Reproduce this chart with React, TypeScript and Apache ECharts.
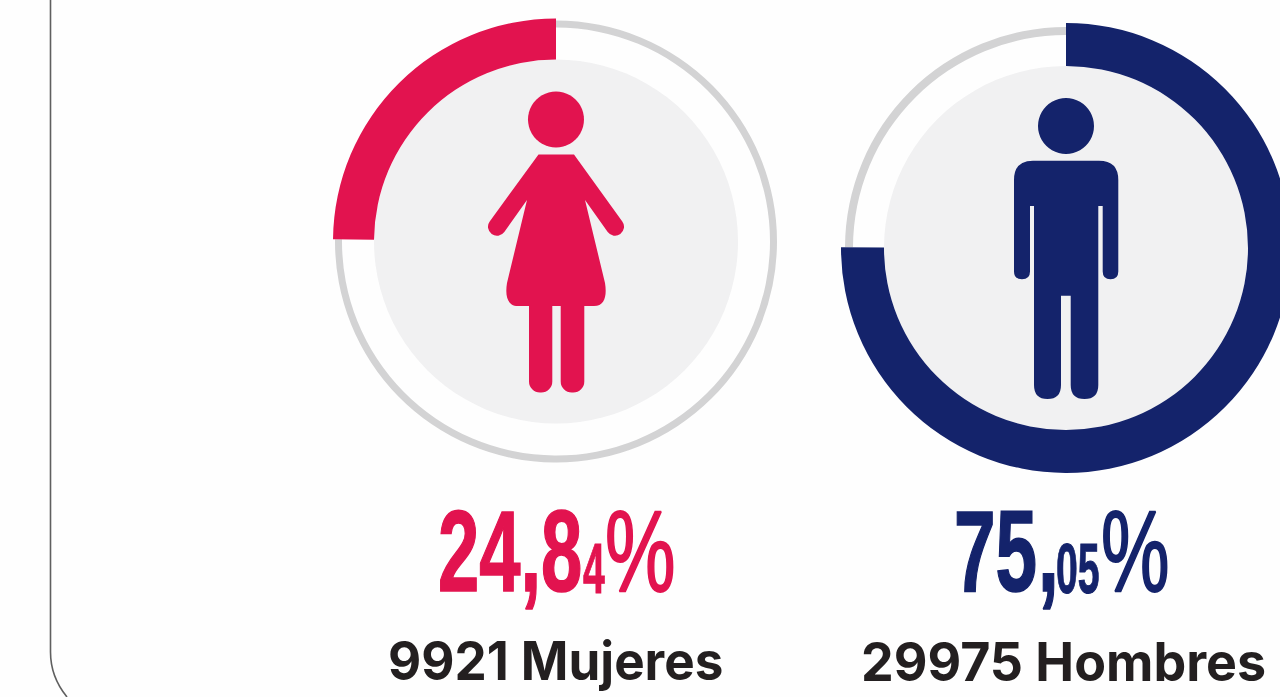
import React, { useEffect, useRef } from "react";
import * as echarts from "echarts";

const groups = ["Mujeres", "Hombres"];
const shares = [24.84, 75.05];
const counts = [9921, 29975];
const colors = ["#e2134f", "#14236b"];
const centers: [number, number][] = [[556, 241.5], [1066, 248]];
const outerRadii = [223, 225];
const ringRadii = [[214, 221], [213, 221]];

const WOMAN =
  "M538.5 154.5L574 154.5L622.3 221.4A9 9 0 0 1 607.7 232L585 200L605 283C607 295 605 306 594 306L518 306C507 306 505 295 507 283L527 200L504.3 232A9 9 0 0 1 489.7 221.4Z" +
  "M529 300L552.3 300L552.3 381.5A11 11 0 0 1 541.3 392.5L540 392.5A11 11 0 0 1 529 381.5Z" +
  "M560.7 300L584.3 300L584.3 381.5A11 11 0 0 1 573.3 392.5L571.7 392.5A11 11 0 0 1 560.7 381.5Z";
const MAN =
  "M1033 160.7L1099 160.7Q1118.3 160.7 1118.3 180L1118.3 271.5Q1118.3 279.3 1110.5 279.3Q1102.7 279.3 1102.7 271.5L1102.7 206L1098.3 206L1098.3 385Q1098.3 399 1084.5 399Q1070.7 399 1070.7 385L1070.7 295.7L1061 295.7L1061 385Q1061 399 1047.5 399Q1034 399 1034 385L1034 206L1030 206L1030 271.5Q1030 279.3 1022 279.3Q1014 279.3 1014 271.5L1014 180Q1014 160.7 1033 160.7Z";

echarts.graphic.registerShape("woman", echarts.graphic.extendPath(WOMAN, {}));
echarts.graphic.registerShape("man", echarts.graphic.extendPath(MAN, {}));

const NARROW = '"Liberation Sans Narrow", "Liberation Sans", sans-serif';
const SANS = 'Inter, "Noto Sans", sans-serif';

function txt(text: string, x: number, y: number, size: number, sx: number, fill: string, family: string, weight: string | number, stroke = 0) {
  return {
    type: "text",
    x,
    y,
    scaleX: sx,
    z: 20,
    silent: true,
    style: {
      text, x: 0, y: 0, fill,
      font: `${weight} ${size}px ${family}`,
      textAlign: "left", textVerticalAlign: "bottom",
      stroke: stroke ? fill : undefined,
      lineWidth: stroke,
    },
  };
}

function pieSeries(i: number) {
  const v = shares[i];
  const rest = 100 - v;
  const base = {
    type: "pie",
    center: centers[i],
    startAngle: 90,
    clockwise: i === 1,
    silent: true,
    label: { show: false },
    labelLine: { show: false },
    emphasis: { disabled: true },
  };
  return [
    { ...base, z: 1, radius: [0, 182], data: [{ value: 100, name: groups[i] + " fondo", itemStyle: { color: "#f1f1f2" } }] },
    { ...base, z: 2, radius: ringRadii[i], data: [
        { value: v, name: "a", itemStyle: { color: "transparent" } },
        { value: rest, name: "resto", itemStyle: { color: "#d3d3d4" } },
      ] },
    { ...base, z: 3, radius: [182, outerRadii[i]], data: [
        { value: v, name: groups[i], itemStyle: { color: colors[i] } },
        { value: rest, name: "b", itemStyle: { color: "transparent" } },
      ] },
  ];
}

export default function App() {
  const ref = useRef<HTMLDivElement>(null);
  useEffect(() => {
    const chart = echarts.init(ref.current!, null, { renderer: "svg" });
    chart.setOption({
      animation: false,
      backgroundColor: "#fefefe",
      series: [...pieSeries(0), ...pieSeries(1)],
      graphic: [
        { type: "line", z: 10, silent: true, shape: { x1: 50.5, y1: 0, x2: 50.5, y2: 652 }, style: { stroke: "#5f5f5f", lineWidth: 1.6 } },
        { type: "bezierCurve", z: 10, silent: true, shape: { x1: 50.5, y1: 652, cpx1: 50.5, cpy1: 672, cpx2: 58, cpy2: 686, x2: 67, y2: 697 }, style: { stroke: "#5f5f5f", lineWidth: 1.6, fill: "none" } },
        { type: "circle", z: 10, silent: true, shape: { cx: 556, cy: 119.5, r: 28 }, style: { fill: colors[0] } },
        { type: "woman", z: 10, silent: true, style: { fill: colors[0] } },
        { type: "circle", z: 10, silent: true, shape: { cx: 1066, cy: 126, r: 28 }, style: { fill: colors[1] } },
        { type: "man", z: 10, silent: true, style: { fill: colors[1] } },
        txt("24,8", 438, 609, 115, 0.645, colors[0], NARROW, "bold", 1.6),
        txt("4", 583, 604, 70, 0.56, colors[0], NARROW, "bold", 1),
        txt("%", 605, 609, 115, 0.69, colors[0], NARROW, "normal", 2),
        txt("75", 954, 609, 115, 0.65, colors[1], NARROW, "bold", 1.6),
        txt(",", 1038, 609, 115, 0.65, colors[1], NARROW, "bold", 1.6),
        txt("05", 1056, 604, 70, 0.56, colors[1], NARROW, "bold", 1),
        txt("%", 1101, 609, 115, 0.67, colors[1], NARROW, "normal", 2),
        txt(`${counts[0]} ${groups[0]}`, 388, 688, 53, 0.965, "#231f20", SANS, 700),
        txt(`${counts[1]} ${groups[1]}`, 861, 688, 53, 0.98, "#231f20", SANS, 700),
      ],
    });
    return () => chart.dispose();
  }, []);
  return (
    <div style={{ position: "fixed", left: 0, top: 0, width: 1280, height: 697, overflow: "hidden" }}>
      <div ref={ref} style={{ width: 1280, height: 697 }} />
    </div>
  );
}
